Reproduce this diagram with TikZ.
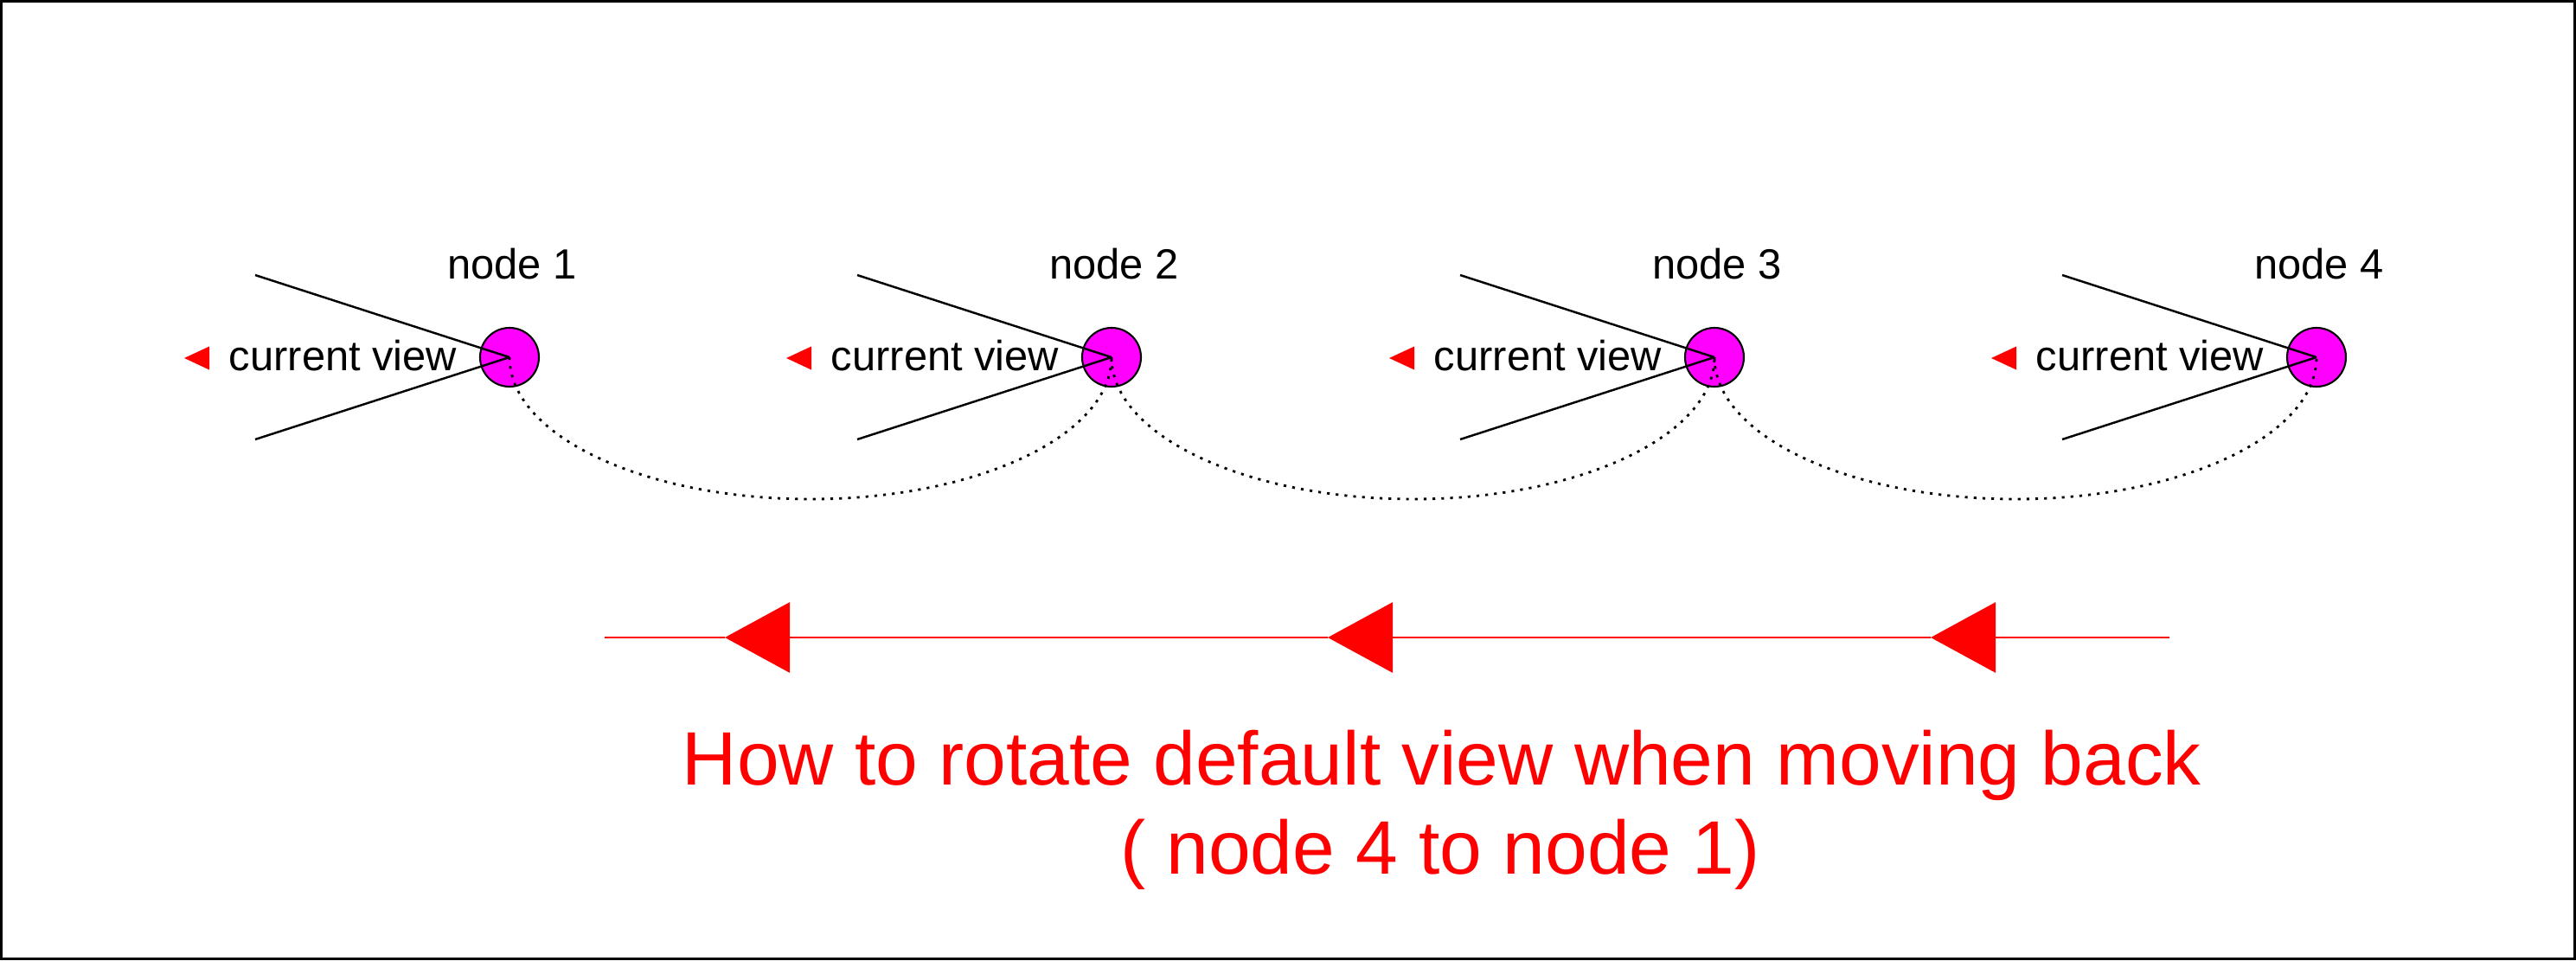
\documentclass[tikz,border=0pt]{standalone}
\usepackage{fontspec}
\setmainfont{Liberation Sans}
\usetikzlibrary{arrows.meta}
\definecolor{camfill}{RGB}{255,0,255}
\tikzset{
  cam/.style={draw, circle, fill=camfill, minimum size=0.68cm, inner sep=0pt, line width=0.6pt},
  nlabel/.style={font=\fontsize{13.9}{16}\selectfont, anchor=base, inner sep=0pt},
  vlabel/.style={font=\fontsize{13.9}{16}\selectfont, anchor=base east, inner sep=0pt},
  ray/.style={line width=0.7pt},
  trail/.style={dash pattern=on 0.9pt off 2pt, line width=0.8pt},
  back/.style={red, line width=0.8pt, -{Triangle[length=0.75cm, width=0.81cm]}},
  headline/.style={red, font=\fontsize{24.9}{30}\selectfont, anchor=base, inner sep=0pt}
}
\begin{document}
\begin{tikzpicture}
\useasboundingbox (0,0) rectangle (29.78,11.10);
\draw[line width=0.9pt] (0.015,0.015) rectangle (29.765,11.085);

% the four nodes
\node[cam] (n1) at (5.89,6.97) {};
\node[cam] (n2) at (12.85,6.97) {};
\node[cam] (n3) at (19.82,6.97) {};
\node[cam] (n4) at (26.78,6.97) {};
\node[nlabel] (t1) at (5.92,7.88) {node 1};
\node[nlabel] (t2) at (12.88,7.88) {node 2};
\node[nlabel] (t3) at (19.85,7.88) {node 3};
\node[nlabel] (t4) at (26.81,7.88) {node 4};
\node[vlabel] (v1) at (5.29,6.82) {current view};
\node[vlabel] (v2) at (12.25,6.82) {current view};
\node[vlabel] (v3) at (19.22,6.82) {current view};
\node[vlabel] (v4) at (26.18,6.82) {current view};

% view direction
\fill[red] (n1.center) ++(-3.76,-0.01) -- ++(0.29,0.135) -- ++(0,-0.27) -- cycle;
\fill[red] (n2.center) ++(-3.76,-0.01) -- ++(0.29,0.135) -- ++(0,-0.27) -- cycle;
\fill[red] (n3.center) ++(-3.76,-0.01) -- ++(0.29,0.135) -- ++(0,-0.27) -- cycle;
\fill[red] (n4.center) ++(-3.76,-0.01) -- ++(0.29,0.135) -- ++(0,-0.27) -- cycle;
\draw[ray] (n1.center) -- ++(-2.94,0.95) (n1.center) -- ++(-2.94,-0.95);
\draw[ray] (n2.center) -- ++(-2.94,0.95) (n2.center) -- ++(-2.94,-0.95);
\draw[ray] (n3.center) -- ++(-2.94,0.95) (n3.center) -- ++(-2.94,-0.95);
\draw[ray] (n4.center) -- ++(-2.94,0.95) (n4.center) -- ++(-2.94,-0.95);

% links
\coordinate (m1) at (9.37,5.33);
\coordinate (m2) at (16.335,5.33);
\coordinate (m3) at (23.30,5.33);
\draw[trail] (n1.center) .. controls +(0,-0.906) and +(-1.922,0) .. (m1) .. controls +(1.922,0) and +(0,-0.906) .. (n2.center);
\draw[trail] (n2.center) .. controls +(0,-0.906) and +(-1.922,0) .. (m2) .. controls +(1.922,0) and +(0,-0.906) .. (n3.center);
\draw[trail] (n3.center) .. controls +(0,-0.906) and +(-1.922,0) .. (m3) .. controls +(1.922,0) and +(0,-0.906) .. (n4.center);

% moving back
\coordinate (a0) at (25.08,3.73);
\coordinate (a1) at (22.32,3.73);
\coordinate (a2) at (15.35,3.73);
\coordinate (a3) at (8.38,3.73);
\coordinate (a4) at (6.99,3.73);
\draw[back] (a0) -- (a1);
\draw[back] (a1) -- (a2);
\draw[back] (a2) -- (a3);
\draw[red, line width=0.8pt] (a3) -- (a4);

\node[headline] (h1) at (16.67,2.03) {How to rotate default view when moving back};
\node[headline] (h2) at (16.65,1.00) {( node 4 to node 1)};
\end{tikzpicture}
\end{document}
